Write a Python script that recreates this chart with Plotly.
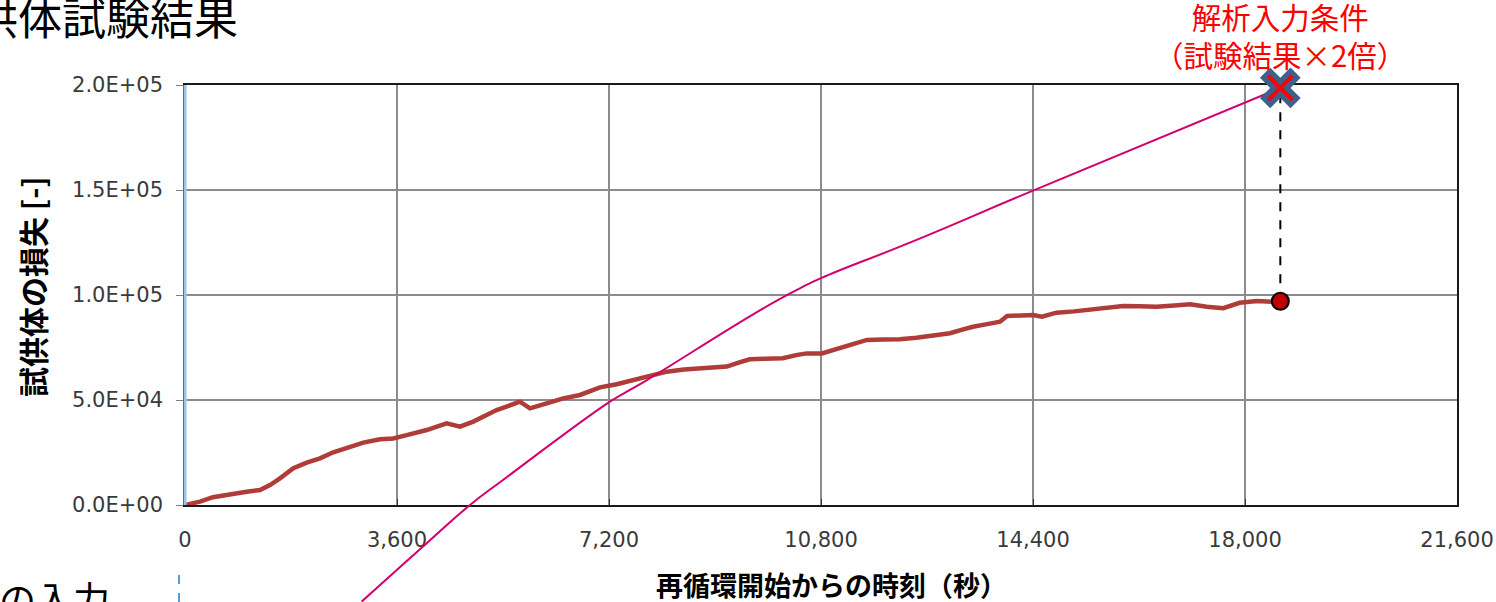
import plotly.graph_objects as go

# 試験結果: 再循環開始からの時刻 [s] と 試供体の損失 [-]
test_time = [0, 255, 475, 764, 1047, 1273, 1443, 1613, 1840, 2066, 2292, 2518, 2745,
             3028, 3311, 3537, 3764, 4104, 4443, 4670, 4895, 5292, 5688, 5858, 6141,
             6424, 6707, 7047, 7330, 7607, 7900, 8184, 8470, 8745, 9000, 9200, 9400,
             9590, 9850, 10150, 10400, 10560, 10815, 11120, 11350, 11580, 11850, 12140,
             12420, 12700, 12990, 13200, 13380, 13600, 13840, 13960, 14200, 14400,
             14550, 14800, 15100, 15370, 15650, 15930, 16200, 16500, 16800, 17070,
             17350, 17630, 17910, 18200, 18480]
test_loss = [0, 1600, 3700, 5200, 6300, 7100, 9500, 12700, 17500, 20200, 22200, 25100,
             27000, 29700, 31300, 31700, 33300, 35700, 38900, 37300, 39700, 45200,
             49200, 46000, 48400, 50800, 52400, 56000, 57500, 59500, 61500, 63500,
             64500, 65100, 65500, 65900, 67800, 69400, 69600, 69900, 71500, 72200,
             72200, 74600, 76500, 78600, 78800, 78900, 79600, 80500, 81800, 83500,
             84900, 86000, 87300, 90000, 90200, 90500, 89700, 91600, 92200, 92900,
             93900, 94800, 94600, 94400, 95000, 95600, 94400, 93700, 96300, 97100,
             96800]

end_time = 18600
end_loss = 97000
target_loss = 198600  # 解析入力条件（試験結果×2倍）

# 手書きの曲線 (slide overlay)
trend_time = [3000, 4104, 4840, 5400, 7216, 7556, 7845, 9776, 10390, 10800, 12350,
              14400, 18600]
trend_loss = [-46000, -18200, 0, 11900, 49200, 54800, 59500, 92900, 102400, 108000,
              125400, 149700, 198600]

x_ticks = [0, 3600, 7200, 10800, 14400, 18000, 21600]
y_ticks = [0, 50000, 100000, 150000, 200000]
y_tick_text = ["0.0E+00", "5.0E+04", "1.0E+05", "1.5E+05", "2.0E+05"]

W, H = 1496, 602
x_dom = [185 / W, 1457 / W]
y_dom = [97 / H, 517 / H]
x_rng = [0, 21600]
y_rng = [0, 200000]

JP = "Noto Sans CJK JP"


def outer_range(rng, dom):
    span = (rng[1] - rng[0]) / (dom[1] - dom[0])
    return [rng[0] - dom[0] * span, rng[1] + (1 - dom[1]) * span]


fig = go.Figure()

fig.add_trace(go.Scatter(x=test_time + [end_time], y=test_loss + [end_loss],
                         mode="lines", line=dict(color="#b03c3a", width=4.5),
                         xaxis="x", yaxis="y"))
fig.add_trace(go.Scatter(x=[end_time, end_time], y=[end_loss, target_loss],
                         mode="lines", line=dict(color="black", width=2, dash="dash"),
                         xaxis="x", yaxis="y"))
fig.add_trace(go.Scatter(x=[end_time], y=[end_loss], mode="markers",
                         marker=dict(size=17, color="#c00000",
                                     line=dict(color="black", width=2)),
                         xaxis="x", yaxis="y", cliponaxis=False))

# overlay on a full-page axis pair so the curve can run past the plot area
fig.add_trace(go.Scatter(x=trend_time, y=trend_loss, mode="lines",
                         line=dict(color="#d2006c", width=2, shape="spline", smoothing=1.3),
                         xaxis="x2", yaxis="y2"))
fig.add_trace(go.Scatter(x=[end_time], y=[target_loss], mode="markers",
                         marker=dict(symbol="x", size=36, color="#3f5f8c",
                                     line=dict(width=0)),
                         xaxis="x2", yaxis="y2", cliponaxis=False))
fig.add_trace(go.Scatter(x=[end_time], y=[target_loss], mode="markers",
                         marker=dict(symbol="x-thin", size=24,
                                     line=dict(color="#ff0000", width=4)),
                         xaxis="x2", yaxis="y2", cliponaxis=False))

fig.update_layout(
    width=W, height=H,
    margin=dict(l=0, r=0, t=0, b=0),
    paper_bgcolor="white",
    plot_bgcolor="rgba(0,0,0,0)",
    showlegend=False,
    font=dict(family="DejaVu Sans", size=21, color="#3a3a3a"),
    xaxis=dict(domain=x_dom, range=x_rng, tickvals=x_ticks, tickformat=",d",
               showgrid=True, gridcolor="#8c8c8c", gridwidth=1.5,
               showline=True, mirror=True, linecolor="#1a1a1a", linewidth=1.5,
               ticks="inside", ticklen=6, tickcolor="#333333",
               ticklabelstandoff=15, zeroline=False, automargin=False),
    yaxis=dict(domain=y_dom, range=y_rng, tickvals=y_ticks, ticktext=y_tick_text,
               showgrid=True, gridcolor="#8c8c8c", gridwidth=1.5,
               showline=True, mirror=True, linecolor="#1a1a1a", linewidth=1.5,
               ticks="outside", ticklen=7, tickcolor="#7f7f7f",
               ticklabelstandoff=9, zeroline=False, automargin=False),
    xaxis2=dict(domain=[0, 1], range=outer_range(x_rng, x_dom), anchor="y2",
                visible=False, fixedrange=True),
    yaxis2=dict(domain=[0, 1], range=outer_range(y_rng, y_dom), anchor="x2",
                visible=False, fixedrange=True),
)

# light-blue selection edge on the value axis and the dashed guide below it
fig.add_shape(type="line", xref="x domain", yref="y domain", x0=0, x1=0, y0=0, y1=1,
              line=dict(color="#9dc3e6", width=3), layer="above")
fig.add_shape(type="line", xref="paper", yref="paper", x0=179 / W, x1=179 / W,
              y0=0, y1=31 / H, line=dict(color="#5b9bd5", width=2, dash="dash"))

fig.add_annotation(text="試供体試験結果", xref="paper", yref="paper",
                   x=240 / W, y=1 - 16 / H, xanchor="right", yanchor="middle",
                   showarrow=False, font=dict(family=JP, size=44, color="black"))
fig.add_annotation(text="の入力", xref="paper", yref="paper",
                   x=-3 / W, y=1 - 598 / H, xanchor="left", yanchor="middle",
                   showarrow=False, font=dict(family=JP, size=37, color="black"))
fig.add_annotation(text="解析入力条件<br>（試験結果×2倍）", xref="x2", yref="y2",
                   x=end_time, y=target_loss, xanchor="center", yanchor="bottom",
                   yshift=11, showarrow=False, align="center",
                   font=dict(family=JP, size=29.5, color="#ff0000"))
fig.add_annotation(text="試供体の損失 [-]", xref="paper", yref="paper",
                   x=32 / W, y=1 - 287 / H, xanchor="center", yanchor="middle",
                   textangle=-90, showarrow=False,
                   font=dict(family=JP, size=30, color="black", weight=700))
fig.add_annotation(text="再循環開始からの時刻（秒）", xref="paper", yref="paper",
                   x=831 / W, y=1 - 584 / H, xanchor="center", yanchor="middle",
                   showarrow=False,
                   font=dict(family=JP, size=27, color="black", weight=700))

# page body has a default 8px margin; drop it so the figure fills the window
fig.write_html("out.html", config={"displayModeBar": False},
               post_script="document.body.style.margin='0';"
                           "document.body.style.overflow='hidden';")
